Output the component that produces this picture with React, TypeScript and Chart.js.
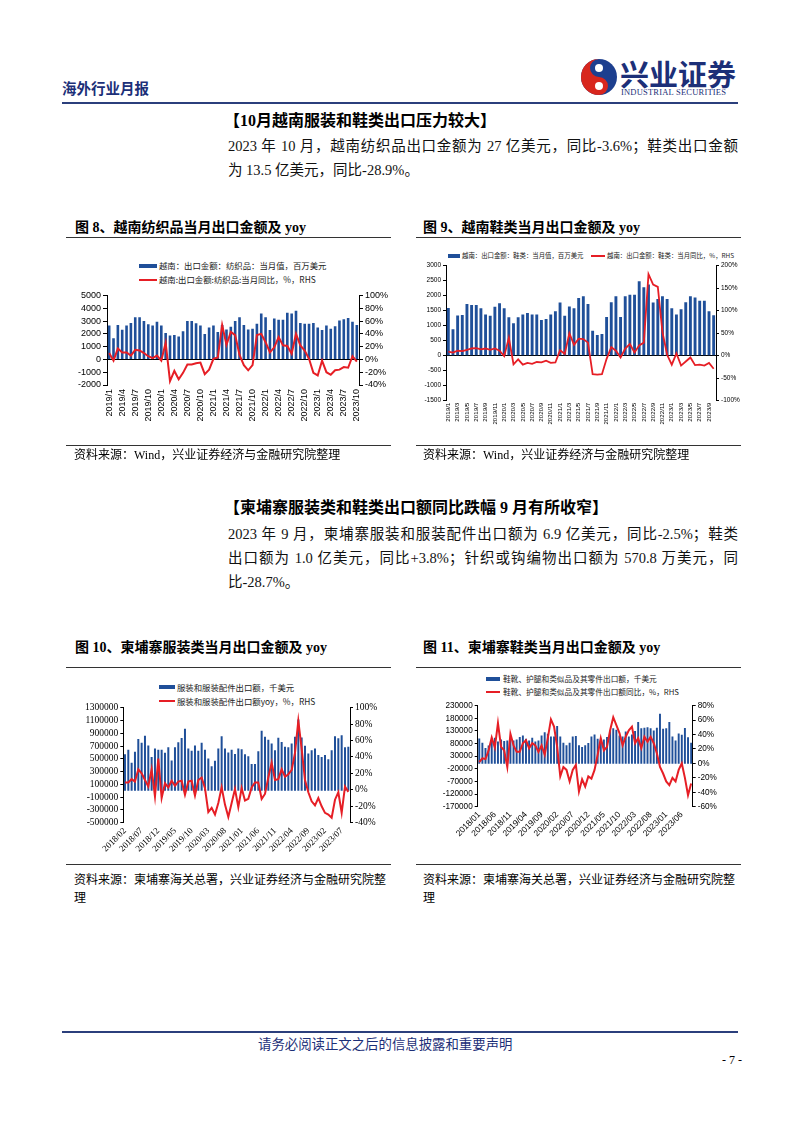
import React, { useEffect, useRef } from "react";
import { Chart, registerables } from "chart.js";
Chart.register(...registerables);

const BLUE = "#1f4f99";
const RED = "#e61e25";
const NAVY = "#1c2f78";
const SERIF = "'Liberation Serif', 'Noto Sans CJK SC', serif";
const CN = "'Noto Sans CJK SC', sans-serif";
const SANS = "'Liberation Sans', Arial, sans-serif";

function monthLabels(y0: number, m0: number, n: number, pad: boolean): string[] {
  const out: string[] = [];
  let y = y0;
  let m = m0;
  for (let i = 0; i < n; i++) {
    out.push(`${y}/${pad ? String(m).padStart(2, "0") : m}`);
    m++;
    if (m > 12) { m = 1; y++; }
  }
  return out;
}

// ---------- Figure 8: Vietnam textile exports (USD mn) and yoy (%) ----------
const vnMonths = monthLabels(2019, 1, 58, false);
const vnTextileValue = [
  2650, 1650, 2700, 2330, 2650, 2850, 3300, 3300, 3000, 2750, 2650, 2950,
  2650, 2060, 1870, 1920, 1800, 2200, 3000, 3000, 2830, 2650, 1980, 2500,
  2650, 2150, 2700, 2350, 2550, 3000, 3300, 2700, 2350, 2400, 2800, 3600,
  3300, 2300, 3200, 3100, 3100, 3650, 3600, 3800, 2850, 2800, 2800, 2850,
  2500, 2300, 2650, 2400, 2600, 3050, 3150, 3250, 2950, 2700,
];
const vnTextileYoy = [
  10, -2, 17, 11, 11, 6, 15, 14, 10, 5, 2, 6,
  -2, 26, -34, -18, -31, -21, -8, -8, -6, -5, -23, -16,
  1, 3, 54, 23, 43, 38, 7, -9, -17, -9, 38, 40,
  27, 11, 19, 35, 22, 21, 9, 40, 22, 14, 1, -21,
  -25, -2, -20, -24, -17, -16, -12, -13, 5, -3.6,
];

// ---------- Figure 9: Vietnam footwear exports (USD mn) and yoy (%) ----------
const vnShoeValue = [
  1590, 880, 1340, 1360, 1720, 1690, 1690, 1580, 1370, 1330, 1630, 1750,
  1580, 1280, 1080, 1280, 1370, 1420, 1370, 1370, 1190, 1220, 1370, 1480,
  1770, 1330, 1640, 1580, 1920, 1980, 1720, 830, 690, 720, 1290, 1780,
  1980, 1290, 1980, 2030, 2030, 2480, 2280, 2370, 1770, 1890, 1980, 1890,
  1580, 1370, 1550, 1780, 1980, 1940, 1830, 1830, 1480, 1350,
];
const vnShoeYoy = [
  9, 7, 11, 10, 13, 16, 17, 14, 16, 13, 16, 11,
  -1, 40, -19, -8, -20, -16, -18, -14, -15, -11, -16, -15,
  12, 4, 50, 24, 38, 37, 29, -41, -42, -41, -7, 19,
  11, -4, 16, 26, 7, 23, 29, 181, 158, 153, 52, 2,
  -20, 5, -22, -13, -4, -21, -20, -22, -16, -28.9,
];

// ---------- Figure 10: Cambodia apparel exports (kUSD) and yoy (%) ----------
const khApparelMonths = monthLabels(2018, 2, 68, true);
const khApparelValue = [
  570000, 640000, 440000, 610000, 810000, 750000, 860000, 710000, 530000, 660000, 640000,
  640000, 595000, 680000, 475000, 680000, 760000, 825000, 970000, 660000, 625000, 710000, 625000,
  750000, 640000, 505000, 385000, 470000, 660000, 855000, 660000, 600000, 640000, 575000, 660000,
  650000, 570000, 540000, 420000, 420000, 620000, 940000, 845000, 800000, 740000, 635000, 830000,
  765000, 690000, 680000, 740000, 845000, 1115000, 835000, 705000, 585000, 635000, 660000, 560000,
  530000, 560000, 495000, 635000, 855000, 820000, 870000, 680000, 690000,
];
const khApparelYoy = [
  9, 9, 13, 10, 25, 20, 12, 4, 25, -8, 38,
  -10, 8, 3, 11, 5, 10, 11, -6, 10, 11, -7, 12,
  15, 2, -27, -22, -30, -16, 3, -18, -33, -16, 1, -21,
  2, -13, -11, 3, 9, 9, -11, -5, 15, 33, 12, 13,
  25, 16, 19, 24, 45, 84, 50, 12, -3, -14, -19, -10,
  -20, -28, -30, -34, -12, -3, -28, 4, -2.5,
];

// ---------- Figure 11: Cambodia footwear exports (kUSD) and yoy (%) ----------
const khShoeMonths = monthLabels(2018, 1, 69, true);
const khShoeValue = [
  100000, 83000, 62000, 72000, 92000, 103000, 88000, 96000, 90000, 92000, 99000, 92000,
  96000, 106000, 112000, 99000, 92000, 103000, 88000, 92000, 112000, 125000, 119000, 108000,
  108000, 150000, 108000, 83000, 73000, 83000, 108000, 110000, 73000, 66000, 73000, 82000,
  108000, 116000, 99000, 95000, 96000, 106000, 132000, 141000, 135000, 112000, 108000, 128000,
  108000, 116000, 130000, 165000, 141000, 143000, 145000, 141000, 132000, 143000, 198000, 139000,
  141000, 165000, 108000, 92000, 120000, 115000, 142000, 105000, 83000,
];
const khShoeYoy = [
  2, 7, 6, 18, 36, 22, 56, 23, 18, -5, 41, 25,
  16, 16, 28, 32, 21, 28, 25, 16, 25, 12, 35, 61,
  51, 23, -18, -5, -9, -25, -9, -2, -39, -22, -32, -18,
  -21, -9, 12, 35, 18, 23, 46, 64, 53, 42, 25, 37,
  46, 51, 28, 35, 21, 37, 30, 37, 28, 14, -5, -14,
  -25, -30, -20, -25, -9, 0, -20, -44, -28,
];

type Box = { left: number; top: number; width: number; height: number };
type Plot = { left: number; right: number; top: number; bottom: number };
type Axis = { min: number; max: number; step: number };

type PanelProps = {
  box: Box;
  plot: Plot;
  labels: string[];
  every: number;
  rotation: number;
  bars: number[];
  line: number[];
  barLabel: string;
  lineLabel: string;
  y: Axis;
  y1: Axis;
  tickFamily: string;
  tickSize: number;
  xSize: number;
  barPct: number;
  lineWidth: number;
  xPad: number;
  tickLen: number;
};

function ChartPanel(p: PanelProps) {
  const ref = useRef<HTMLCanvasElement>(null);
  useEffect(() => {
    const { box, plot } = p;
    const tickFont = { family: p.tickFamily, size: p.tickSize };
    const chart = new Chart(ref.current as HTMLCanvasElement, {
      type: "bar",
      data: {
        labels: p.labels,
        datasets: [
          {
            type: "line",
            label: p.lineLabel,
            data: p.line,
            yAxisID: "y1",
            borderColor: RED,
            backgroundColor: RED,
            borderWidth: p.lineWidth,
            pointRadius: 0,
            tension: 0,
            order: 1,
          } as any,
          {
            type: "bar",
            label: p.barLabel,
            data: p.bars,
            yAxisID: "y",
            backgroundColor: BLUE,
            barPercentage: p.barPct,
            categoryPercentage: 1,
            order: 2,
          } as any,
        ],
      },
      options: {
        responsive: false,
        animation: false,
        devicePixelRatio: 1,
        layout: { padding: { top: plot.top - box.top, left: 0, right: 0, bottom: 0 } },
        plugins: { legend: { display: false }, tooltip: { enabled: false } },
        scales: {
          x: {
            type: "category",
            offset: true,
            grid: { display: false, drawTicks: false },
            border: { display: false },
            ticks: {
              autoSkip: false,
              minRotation: p.rotation,
              maxRotation: p.rotation,
              padding: p.xPad,
              color: "#000",
              font: { family: p.tickFamily, size: p.xSize },
              callback: (_v: any, i: number) => (i % p.every === 0 ? p.labels[i] : ""),
            },
            afterFit: (s: any) => { s.height = box.top + box.height - plot.bottom; },
          },
          y: {
            position: "left",
            min: p.y.min,
            max: p.y.max,
            ticks: {
              stepSize: p.y.step,
              autoSkip: false,
              color: "#000",
              font: tickFont,
              padding: 2,
              callback: (v: any) => String(v),
            },
            grid: {
              color: (ctx: any) => (ctx.tick && ctx.tick.value === 0 ? "#000" : "rgba(0,0,0,0)"),
              tickColor: "#000",
              tickLength: p.tickLen,
              lineWidth: 1,
            },
            border: { display: true, color: "#000", width: 1 },
            afterFit: (s: any) => { s.width = plot.left - box.left; },
          },
          y1: {
            position: "right",
            min: p.y1.min,
            max: p.y1.max,
            ticks: {
              stepSize: p.y1.step,
              autoSkip: false,
              color: "#000",
              font: tickFont,
              padding: 2,
              callback: (v: any) => `${v}%`,
            },
            grid: { drawOnChartArea: false, tickColor: "#000", tickLength: p.tickLen },
            border: { display: true, color: "#000", width: 1 },
            afterFit: (s: any) => { s.width = box.left + box.width - plot.right; },
          },
        },
      } as any,
    });
    return () => chart.destroy();
  }, []);
  return (
    <canvas
      ref={ref}
      width={p.box.width}
      height={p.box.height}
      style={{ position: "absolute", left: p.box.left, top: p.box.top, width: p.box.width, height: p.box.height }}
    />
  );
}

function T(props: {
  x: number; cy: number; size: number; text: string; bold?: boolean; color?: string; family?: string;
}) {
  const lh = Math.round(props.size * 1.3);
  return (
    <div
      style={{
        position: "absolute",
        left: props.x,
        top: props.cy - lh / 2,
        height: lh,
        lineHeight: `${lh}px`,
        fontSize: props.size,
        fontWeight: props.bold ? 700 : 400,
        color: props.color || "#000",
        fontFamily: props.family || SERIF,
        whiteSpace: "nowrap",
      }}
    >
      {props.text}
    </div>
  );
}

function J(props: { x: number; cy: number; w: number; size: number; text: string }) {
  const lh = Math.round(props.size * 1.4);
  return (
    <div
      style={{
        position: "absolute",
        left: props.x,
        top: props.cy - lh / 2,
        width: props.w,
        height: lh,
        lineHeight: `${lh}px`,
        fontSize: props.size,
        fontFamily: SERIF,
        color: "#111",
        textAlign: "justify",
        textAlignLast: "justify" as any,
      }}
    >
      {props.text}
    </div>
  );
}

function HLine(props: { x1: number; x2: number; y: number; w?: number; color?: string }) {
  return (
    <div
      style={{
        position: "absolute",
        left: props.x1,
        top: props.y - (props.w || 1) / 2,
        width: props.x2 - props.x1,
        height: props.w || 1,
        background: props.color || "#333",
      }}
    />
  );
}

function LegendItem(props: { kind: "bar" | "line"; x1: number; x2: number; cy: number; tx: number; size: number; text: string }) {
  const h = props.kind === "bar" ? 4 : 2;
  return (
    <>
      <div
        style={{
          position: "absolute",
          left: props.x1,
          top: props.cy - h / 2,
          width: props.x2 - props.x1,
          height: h,
          background: props.kind === "bar" ? BLUE : RED,
        }}
      />
      <T x={props.tx} cy={props.cy} size={props.size} text={props.text} family={CN} color="#222" />
    </>
  );
}

function Logo() {
  return (
    <svg width={38} height={40} style={{ position: "absolute", left: 580, top: 57 }} viewBox="0 0 38 40">
      <circle cx={19} cy={20} r={18} fill="#1d3f8f" />
      <path d="M19 2 A18 18 0 0 0 19 38 A9 9 0 0 0 19 20 A9 9 0 0 1 19 2 Z" fill="#d8261d" />
      <circle cx={19} cy={11} r={4} fill="#fff" />
      <circle cx={19} cy={29} r={4} fill="#fff" />
    </svg>
  );
}

export default function App() {
  return (
    <div style={{ position: "absolute", left: 0, top: 0, width: 802, height: 1133, background: "#fff", overflow: "hidden" }}>
      {/* header */}
      <T x={62} cy={87} size={14.5} bold text="海外行业月报" color={NAVY} family={CN} />
      <Logo />
      <T x={620} cy={73} size={29} bold text="兴业证券" color={NAVY} family={CN} />
      <div
        style={{
          position: "absolute", left: 621, top: 87, width: 116, fontSize: 8.5, lineHeight: "10px",
          fontFamily: SERIF, color: NAVY, whiteSpace: "nowrap", letterSpacing: 0.2,
        }}
      >
        INDUSTRIAL SECURITIES
      </div>
      <HLine x1={62} x2={738} y={103} w={1.5} color="#2b3f7c" />

      {/* section 1 */}
      <T x={224} cy={120} size={16} bold text="【10月越南服装和鞋类出口压力较大】" family={SERIF} />
      <J x={228} cy={146} w={510} size={14.5} text="2023 年 10 月，越南纺织品出口金额为 27 亿美元，同比-3.6%；鞋类出口金额" />
      <T x={228} cy={170} size={14.5} text="为 13.5 亿美元，同比-28.9%。" color="#111" />

      {/* figure 8 */}
      <T x={75} cy={228} size={14} bold text="图 8、越南纺织品当月出口金额及 yoy" />
      <HLine x1={66} x2={391} y={237} />
      <LegendItem kind="bar" x1={139} x2={157} cy={265.7} tx={159} size={8.4} text="越南：出口金额：纺织品：当月值，百万美元" />
      <LegendItem kind="line" x1={139} x2={157} cy={279.5} tx={159} size={8.4} text="越南:出口金额:纺织品:当月同比，%，RHS" />
      <ChartPanel
        box={{ left: 62, top: 285, width: 335, height: 165 }}
        plot={{ left: 107, right: 359, top: 295.5, bottom: 385 }}
        labels={vnMonths}
        every={3}
        rotation={90}
        bars={vnTextileValue}
        line={vnTextileYoy}
        barLabel="越南：出口金额：纺织品：当月值，百万美元"
        lineLabel="越南:出口金额:纺织品:当月同比，%，RHS"
        y={{ min: -2000, max: 5000, step: 1000 }}
        y1={{ min: -40, max: 100, step: 20 }}
        tickFamily={SANS}
        tickSize={9}
        xSize={9}
        barPct={0.6}
        lineWidth={2}
        xPad={4}
        tickLen={4}
      />
      <HLine x1={66} x2={391} y={445} />
      <T x={74} cy={455} size={12} text="资料来源：Wind，兴业证券经济与金融研究院整理" />

      {/* figure 9 */}
      <T x={423} cy={228} size={14} bold text="图 9、越南鞋类当月出口金额及 yoy" />
      <HLine x1={416} x2={741} y={237} />
      <LegendItem kind="bar" x1={448} x2={460} cy={256} tx={462} size={6.4} text="越南：出口金额：鞋类：当月值，百万美元" />
      <LegendItem kind="line" x1={591} x2={605} cy={256} tx={607} size={6.4} text="越南：出口金额：鞋类：当月同比，%，RHS" />
      <ChartPanel
        box={{ left: 416, top: 258, width: 330, height: 180 }}
        plot={{ left: 446, right: 716, top: 265.7, bottom: 400.7 }}
        labels={vnMonths}
        every={2}
        rotation={90}
        bars={vnShoeValue}
        line={vnShoeYoy}
        barLabel="越南：出口金额：鞋类：当月值，百万美元"
        lineLabel="越南：出口金额：鞋类：当月同比，%，RHS"
        y={{ min: -1500, max: 3000, step: 500 }}
        y1={{ min: -100, max: 200, step: 50 }}
        tickFamily={SANS}
        tickSize={6.5}
        xSize={6.2}
        barPct={0.62}
        lineWidth={1.8}
        xPad={2}
        tickLen={3}
      />
      <HLine x1={416} x2={741} y={445} />
      <T x={423} cy={455} size={12} text="资料来源：Wind，兴业证券经济与金融研究院整理" />

      {/* section 2 */}
      <T x={224} cy={507} size={16} bold text="【柬埔寨服装类和鞋类出口额同比跌幅 9 月有所收窄】" family={SERIF} />
      <J x={228} cy={534} w={510} size={14.5} text="2023 年 9 月，柬埔寨服装和服装配件出口额为 6.9 亿美元，同比-2.5%；鞋类" />
      <J x={228} cy={558} w={510} size={14.5} text="出口额为 1.0 亿美元，同比+3.8%；针织或钩编物出口额为 570.8 万美元，同" />
      <T x={228} cy={582} size={14.5} text="比-28.7%。" color="#111" />

      {/* figure 10 */}
      <T x={75} cy={648} size={14} bold text="图 10、柬埔寨服装类当月出口金额及 yoy" />
      <HLine x1={66} x2={391} y={667.5} />
      <LegendItem kind="bar" x1={159} x2={175} cy={687.3} tx={177} size={8.4} text="服装和服装配件出口额，千美元" />
      <LegendItem kind="line" x1={159} x2={175} cy={701} tx={177} size={8.4} text="服装和服装配件出口额yoy，%，RHS" />
      <ChartPanel
        box={{ left: 62, top: 700, width: 330, height: 160 }}
        plot={{ left: 123.3, right: 350, top: 707.7, bottom: 822.7 }}
        labels={khApparelMonths}
        every={5}
        rotation={45}
        bars={khApparelValue}
        line={khApparelYoy}
        barLabel="服装和服装配件出口额，千美元"
        lineLabel="服装和服装配件出口额yoy，%，RHS"
        y={{ min: -500000, max: 1300000, step: 200000 }}
        y1={{ min: -40, max: 100, step: 20 }}
        tickFamily={SERIF}
        tickSize={9.5}
        xSize={9}
        barPct={0.6}
        lineWidth={2}
        xPad={3}
        tickLen={3}
      />
      <HLine x1={66} x2={391} y={864} />
      <T x={74} cy={880} size={12} text="资料来源：柬埔寨海关总署，兴业证券经济与金融研究院整" />
      <T x={74} cy={898} size={12} text="理" />

      {/* figure 11 */}
      <T x={423} cy={648} size={14} bold text="图 11、柬埔寨鞋类当月出口金额及 yoy" />
      <HLine x1={416} x2={741} y={667.5} />
      <LegendItem kind="bar" x1={486} x2={500} cy={679} tx={503} size={7.7} text="鞋靴、护腿和类似品及其零件出口额，千美元" />
      <LegendItem kind="line" x1={486} x2={500} cy={691.7} tx={503} size={7.7} text="鞋靴、护腿和类似品及其零件出口额同比，%，RHS" />
      <ChartPanel
        box={{ left: 416, top: 698, width: 330, height: 162 }}
        plot={{ left: 477.7, right: 692.7, top: 705.7, bottom: 806.7 }}
        labels={khShoeMonths}
        every={5}
        rotation={45}
        bars={khShoeValue}
        line={khShoeYoy}
        barLabel="鞋靴、护腿和类似品及其零件出口额，千美元"
        lineLabel="鞋靴、护腿和类似品及其零件出口额同比，%，RHS"
        y={{ min: -170000, max: 230000, step: 50000 }}
        y1={{ min: -60, max: 80, step: 20 }}
        tickFamily={SANS}
        tickSize={8.2}
        xSize={8.5}
        barPct={0.62}
        lineWidth={2}
        xPad={3}
        tickLen={3}
      />
      <HLine x1={416} x2={741} y={864} />
      <T x={423} cy={880} size={12} text="资料来源：柬埔寨海关总署，兴业证券经济与金融研究院整" />
      <T x={423} cy={898} size={12} text="理" />

      {/* footer */}
      <HLine x1={62} x2={738} y={1032} w={1.5} color="#2b3f7c" />
      <T x={258} cy={1043} size={13.4} text="请务必阅读正文之后的信息披露和重要声明" color={NAVY} family={CN} />
      <T x={722} cy={1060} size={12} text="- 7 -" />
    </div>
  );
}
